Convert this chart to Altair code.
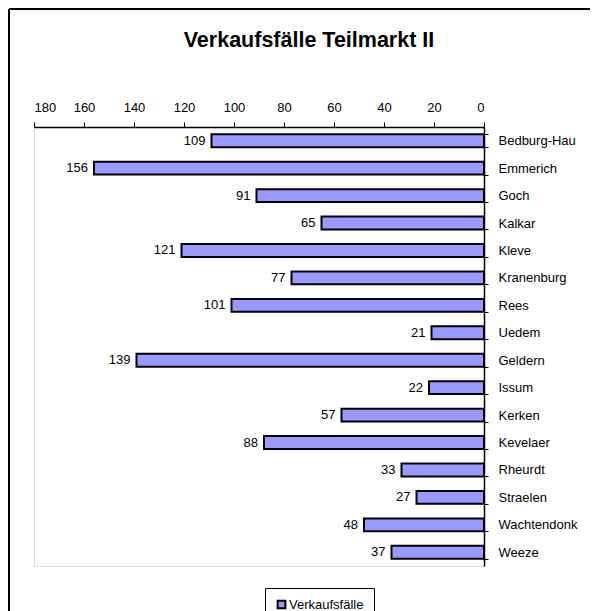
import altair as alt
import pandas as pd

orte = ["Bedburg-Hau", "Emmerich", "Goch", "Kalkar", "Kleve", "Kranenburg", "Rees",
        "Uedem", "Geldern", "Issum", "Kerken", "Kevelaer", "Rheurdt", "Straelen",
        "Wachtendonk", "Weeze"]
faelle = [109, 156, 91, 65, 121, 77, 101, 21, 139, 22, 57, 88, 33, 27, 48, 37]
x_ticks = [0, 20, 40, 60, 80, 100, 120, 140, 160, 180]
serie = "Verkaufsfälle"

df = pd.DataFrame({"Ort": orte, "Faelle": faelle, "Serie": [serie] * len(orte)})

FONT = "Liberation Sans"

y_enc = alt.Y("Ort:N", sort=orte,
              scale=alt.Scale(paddingInner=0.53, paddingOuter=0.265),
              axis=alt.Axis(orient="right", title=None, labelFontSize=13, labelFont=FONT,
                            labelColor="black", domainColor="black", domainWidth=1.5,
                            tickColor="black", tickSize=4, tickBand="extent",
                            labelPadding=10, grid=False))
x_enc = alt.X("Faelle:Q",
              scale=alt.Scale(domain=[0, 180], reverse=True, nice=False),
              axis=alt.Axis(orient="top", title=None, values=x_ticks, labelFontSize=13,
                            labelFont=FONT, labelColor="black", domainColor="black",
                            domainWidth=1.5, tickColor="black", tickSize=5,
                            labelPadding=8, grid=False))

bars = alt.Chart(df).mark_bar(stroke="black", strokeWidth=2).encode(
    x=x_enc, y=y_enc,
    color=alt.Color("Serie:N", scale=alt.Scale(domain=[serie], range=["#9999FF"]),
                    legend=alt.Legend(title=None, orient="none", legendX=231, legendY=461,
                                      strokeColor="black", padding=10, symbolType="square",
                                      symbolStrokeColor="black", symbolStrokeWidth=2,
                                      symbolSize=60, labelFontSize=13, labelFont=FONT,
                                      labelColor="black", fillColor="white",
                                      symbolOpacity=1, labelOffset=1))
)

labels = alt.Chart(df).mark_text(align="right", baseline="middle", dx=-6, fontSize=13,
                                 font=FONT, color="black").encode(
    x="Faelle:Q", y=alt.Y("Ort:N", sort=orte), text="Faelle:Q"
)

frame_v = alt.Chart(df).mark_rule(color="black", strokeWidth=2).encode(
    x=alt.value(-25), y=alt.value(-118), y2=alt.value(700))
frame_h = alt.Chart(df).mark_rule(color="black", strokeWidth=2).encode(
    x=alt.value(-25), x2=alt.value(700), y=alt.value(-118))

chart = alt.layer(frame_v, frame_h, bars, labels).properties(
    width=450, height=439,
    title=alt.TitleParams("Verkaufsfälle Teilmarkt II", font=FONT, fontSize=21.5,
                          fontWeight="bold", color="black", anchor="middle", dx=50,
                          baseline="alphabetic", offset=-60),
    autosize=alt.AutoSizeParams(type="none"),
    padding={"left": 26, "top": 119, "right": 106, "bottom": 52},
).configure_view(stroke="#808080", strokeWidth=2).configure(background="white")

chart.save("out.html", embed_options={"renderer": "svg", "actions": False})
